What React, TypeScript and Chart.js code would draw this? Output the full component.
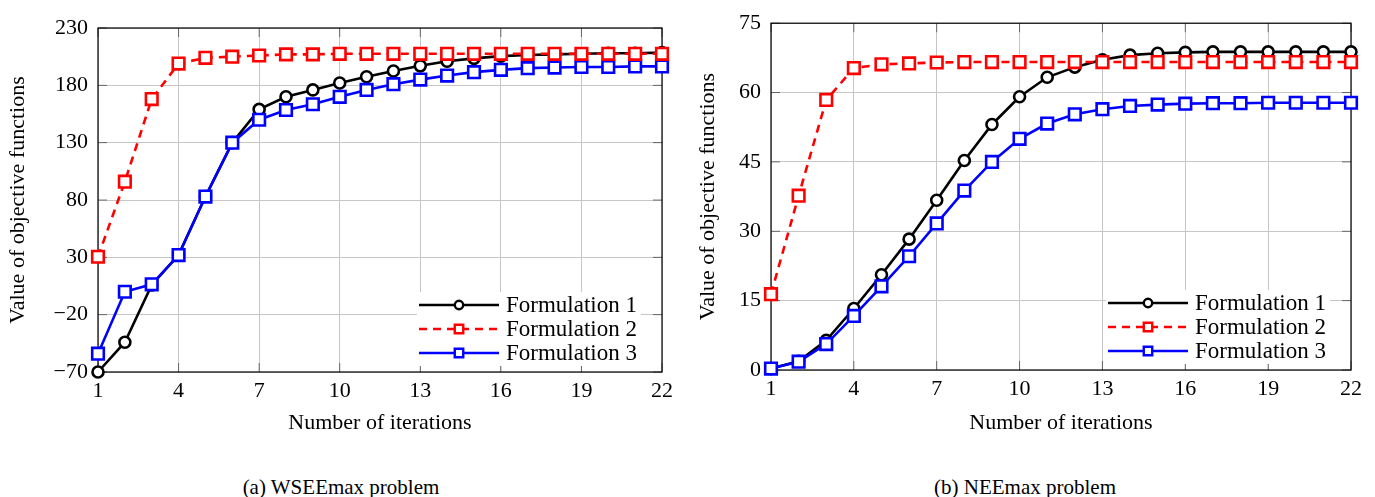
import React, { useEffect, useRef } from "react";
import { Chart, registerables } from "chart.js";

Chart.register(...registerables);

// ---------------- data ----------------
const iterations = [1, 2, 3, 4, 5, 6, 7, 8, 9, 10, 11, 12, 13, 14, 15, 16, 17, 18, 19, 20, 21, 22];
const seriesNames = ["Formulation 1", "Formulation 2", "Formulation 3"];

// (a) WSEEmax problem
const wseeF1 = [-70, -44, 6, 32, 83, 130, 159, 170, 176, 182, 187.5, 192.5, 197, 201, 203.5, 205.5, 206.5, 207, 207.5, 208, 208, 208.5];
const wseeF2 = [30.5, 96, 168, 199, 204, 205, 206, 207, 207, 207.5, 207.5, 207.5, 207.5, 207.5, 207.5, 207.5, 207.5, 207.5, 207.5, 207.5, 207.5, 207.5];
const wseeF3 = [-54, 0, 6.5, 32, 83, 130, 150, 158.5, 163.5, 170, 176, 181, 185, 188.5, 191.5, 193.5, 195, 195.5, 196, 196, 196.5, 196.5];

// (b) NEEmax problem
const neeF1 = [0.3, 1.9, 6.4, 13.3, 20.6, 28.3, 36.7, 45.3, 53.1, 59.1, 63.3, 65.5, 67.1, 68.1, 68.5, 68.7, 68.8, 68.8, 68.8, 68.8, 68.8, 68.8];
const neeF2 = [16.4, 37.7, 58.4, 65.3, 66.1, 66.3, 66.5, 66.6, 66.6, 66.6, 66.6, 66.6, 66.6, 66.6, 66.6, 66.6, 66.6, 66.6, 66.6, 66.6, 66.6, 66.6];
const neeF3 = [0.3, 1.8, 5.6, 11.7, 18.1, 24.6, 31.7, 38.8, 45.0, 50.0, 53.3, 55.3, 56.4, 57.1, 57.4, 57.6, 57.7, 57.7, 57.8, 57.8, 57.8, 57.8];

const xTickValues = [1, 4, 7, 10, 13, 16, 19, 22];
const wseeYTicks = [-70, -20, 30, 80, 130, 180, 230];
const neeYTicks = [0, 15, 30, 45, 60, 75];

const xTitle = "Number of iterations";
const yTitle = "Value of objective functions";
const captions = ["(a) WSEEmax problem", "(b) NEEmax problem"];

// ---------------- styles ----------------
const FONT = "'Liberation Serif', 'Times New Roman', Times, serif";
const seriesStyles = [
  { color: "#000000", dash: [] as number[], point: "circle", radius: 5.5, legendR: 4.2, order: 3 },
  { color: "#ff0000", dash: [8, 6], point: "rect", radius: 8.2, legendR: 6, order: 1 },
  { color: "#0000ff", dash: [] as number[], point: "rect", radius: 8.2, legendR: 6, order: 2 },
];

const fmt = (v: number) => (v < 0 ? "\u2212" + Math.abs(v) : String(v));

const framePlugin = {
  id: "frameTicks",
  beforeDatasetsDraw(chart: any) {
    const { ctx, chartArea: a, scales } = chart;
    const L = 9;
    ctx.save();
    ctx.strokeStyle = "rgba(0,0,0,0.5)";
    ctx.lineWidth = 1;
    ctx.beginPath();
    scales.x.ticks.forEach((t: any) => {
      const p = scales.x.getPixelForValue(t.value);
      ctx.moveTo(p, a.bottom);
      ctx.lineTo(p, a.bottom - L);
      ctx.moveTo(p, a.top);
      ctx.lineTo(p, a.top + L);
    });
    scales.y.ticks.forEach((t: any) => {
      const p = scales.y.getPixelForValue(t.value);
      ctx.moveTo(a.left, p);
      ctx.lineTo(a.left + L, p);
      ctx.moveTo(a.right, p);
      ctx.lineTo(a.right - L, p);
    });
    ctx.stroke();
    ctx.strokeStyle = "#000";
    ctx.lineWidth = 1.2;
    ctx.strokeRect(a.left, a.top, a.right - a.left, a.bottom - a.top);
    ctx.restore();
  },
};

const legendPlugin = {
  id: "innerLegend",
  afterDatasetsDraw(chart: any, _args: any, opts: any) {
    const { ctx, chartArea: a } = chart;
    const x0 = a.right - (opts.fromRight ?? 243);
    const rows = [a.bottom - 67, a.bottom - 43, a.bottom - 19];
    const sampleLen = 80;
    ctx.save();
    ctx.font = `23px ${FONT}`;
    const ds = chart.data.datasets;
    const textW = Math.max(...ds.map((d: any) => ctx.measureText(d.label).width));
    ctx.fillStyle = "#fff";
    ctx.fillRect(x0 - 2, rows[0] - 13, sampleLen + 7 + textW + 6, rows[2] - rows[0] + 26);
    ds.forEach((d: any, i: number) => {
      const st = seriesStyles[i];
      const y = rows[i];
      ctx.strokeStyle = d.borderColor;
      ctx.lineWidth = d.borderWidth;
      ctx.setLineDash(st.dash);
      ctx.beginPath();
      ctx.moveTo(x0, y);
      ctx.lineTo(x0 + sampleLen, y);
      ctx.stroke();
      ctx.setLineDash([]);
      const cx = x0 + sampleLen / 2;
      ctx.fillStyle = "#fff";
      ctx.lineWidth = 2.4;
      ctx.beginPath();
      if (st.point === "circle") {
        ctx.arc(cx, y, st.legendR, 0, Math.PI * 2);
      } else {
        const h = st.legendR * Math.SQRT1_2;
        ctx.rect(cx - h, y - h, 2 * h, 2 * h);
      }
      ctx.fill();
      ctx.stroke();
      ctx.fillStyle = "#000";
      ctx.textBaseline = "middle";
      ctx.textAlign = "left";
      ctx.fillText(d.label, x0 + sampleLen + 7, y + 1);
    });
    ctx.restore();
  },
};

type PanelProps = {
  series: number[][];
  yTicks: number[];
  yAxisWidth: number;
  padTop: number;
  padRight: number;
  xAxisHeight: number;
  width: number;
  height: number;
  left: number;
};

function Panel(p: PanelProps) {
  const ref = useRef<HTMLCanvasElement | null>(null);
  useEffect(() => {
    if (!ref.current) return;
    const datasets = p.series.map((vals, i) => {
      const st = seriesStyles[i];
      return {
        label: seriesNames[i],
        data: iterations.map((x, k) => ({ x, y: vals[k] })),
        borderColor: st.color,
        borderWidth: 2.6,
        borderDash: st.dash,
        pointStyle: st.point,
        pointRadius: st.radius,
        pointBorderWidth: 2.6,
        pointBackgroundColor: "#ffffff",
        pointBorderColor: st.color,
        tension: 0,
        fill: false,
        clip: false as any,
        order: st.order,
      };
    });
    const tickFont = { family: FONT, size: 22 };
    const titleFont = { family: FONT, size: 22 };
    const chart = new Chart(ref.current, {
      type: "line",
      data: { datasets: datasets as any },
      options: {
        animation: false,
        responsive: false,
        maintainAspectRatio: false,
        layout: { padding: { top: p.padTop, right: p.padRight, left: 0, bottom: 0 } },
        plugins: {
          legend: { display: false },
          tooltip: { enabled: false },
          innerLegend: { fromRight: 243 },
        } as any,
        scales: {
          x: {
            type: "linear",
            min: iterations[0],
            max: iterations[iterations.length - 1],
            afterBuildTicks: (s: any) => {
              s.ticks = xTickValues.map((v) => ({ value: v }));
            },
            afterFit: (s: any) => {
              s.height = p.xAxisHeight;
            },
            grid: { color: "#c6c6c6", lineWidth: 1, drawTicks: false },
            border: { display: false },
            ticks: { font: tickFont, color: "#000", padding: 6, maxRotation: 0, autoSkip: false, callback: (v: any) => fmt(Number(v)) },
            title: { display: true, text: xTitle, font: titleFont, color: "#000", padding: { top: 0, bottom: 24 } },
          },
          y: {
            type: "linear",
            min: p.yTicks[0],
            max: p.yTicks[p.yTicks.length - 1],
            afterBuildTicks: (s: any) => {
              s.ticks = p.yTicks.map((v) => ({ value: v }));
            },
            afterFit: (s: any) => {
              s.width = p.yAxisWidth;
            },
            grid: { color: "#c6c6c6", lineWidth: 1, drawTicks: false },
            border: { display: false },
            ticks: { font: tickFont, color: "#000", padding: 10, autoSkip: false, callback: (v: any) => fmt(Number(v)) },
            title: { display: true, text: yTitle, font: titleFont, color: "#000", padding: { top: 5, bottom: 0 } },
          },
        },
      },
      plugins: [framePlugin, legendPlugin],
    });
    return () => chart.destroy();
  }, []);
  return (
    <canvas
      ref={ref}
      width={p.width}
      height={p.height}
      style={{ position: "absolute", left: p.left, top: 0, width: p.width, height: p.height }}
    />
  );
}

export default function App() {
  const capStyle = (cx: number): React.CSSProperties => ({
    position: "absolute",
    left: cx - 200,
    top: 475,
    width: 400,
    textAlign: "center",
    fontFamily: FONT,
    fontSize: 21,
    lineHeight: "24px",
    color: "#000",
  });
  return (
    <div style={{ position: "absolute", left: 0, top: 0, width: 1375, height: 497, background: "#fff", overflow: "hidden" }}>
      <Panel
        series={[wseeF1, wseeF2, wseeF3]}
        yTicks={wseeYTicks}
        yAxisWidth={98}
        padTop={28}
        padRight={28}
        xAxisHeight={88}
        width={690}
        height={460}
        left={0}
      />
      <Panel
        series={[neeF1, neeF2, neeF3]}
        yTicks={neeYTicks}
        yAxisWidth={81}
        padTop={16}
        padRight={24}
        xAxisHeight={90}
        width={685}
        height={460}
        left={690}
      />
      <div style={capStyle(341)}>{captions[0]}</div>
      <div style={capStyle(1025)}>{captions[1]}</div>
    </div>
  );
}
